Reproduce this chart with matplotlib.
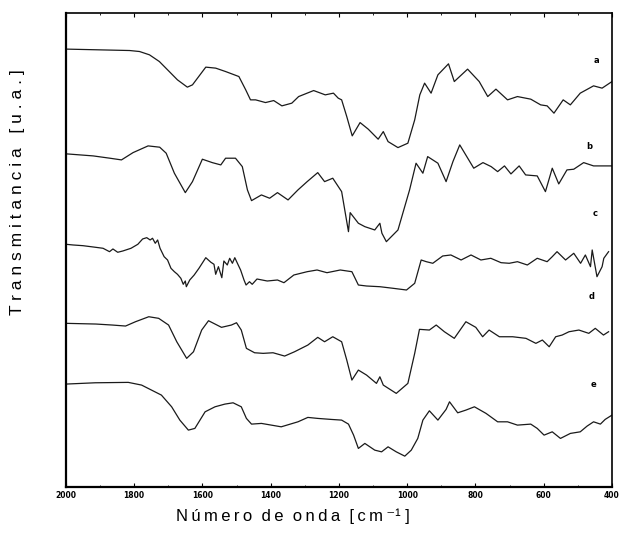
import numpy as np
import matplotlib.pyplot as plt

# wavenumbers [cm-1] and transmittance (arbitrary units, offset per curve)
wn_a = [1997, 1813, 1784, 1755, 1726, 1697, 1673, 1644, 1629, 1590, 1561, 1532, 1493, 1473, 1459,
        1444, 1415, 1391, 1367, 1338, 1318, 1274, 1240, 1216, 1202, 1192, 1177, 1161, 1138, 1114,
        1085, 1070, 1056, 1027, 998, 978, 963, 949, 930, 910, 879, 862, 823, 789, 764, 740, 706,
        677, 638, 609, 590, 570, 543, 522, 493, 454, 429, 400]
t_a = [450.7, 449.3, 448.3, 445.0, 438.3, 428.3, 420.0, 412.7, 415.0, 432.7, 431.7, 428.3, 423.3,
       410.0, 400.0, 400.0, 397.3, 399.3, 394.0, 396.7, 403.3, 409.3, 405.0, 406.7, 401.7, 400.0,
       383.3, 364.0, 377.3, 370.7, 360.7, 368.3, 358.3, 352.3, 356.7, 380.0, 405.0, 416.7, 406.7,
       425.0, 436.0, 418.3, 430.7, 418.3, 403.3, 410.7, 400.0, 403.3, 400.7, 395.0, 394.0, 386.7,
       400.0, 395.0, 406.7, 414.0, 411.7, 418.3]

wn_b = [1997, 1920, 1871, 1837, 1803, 1759, 1725, 1706, 1682, 1650, 1629, 1600, 1571, 1546, 1532,
        1503, 1483, 1468, 1456, 1427, 1403, 1380, 1349, 1320, 1293, 1262, 1242, 1218, 1192, 1172,
        1167, 1143, 1124, 1095, 1080, 1074, 1061, 1027, 993, 974, 954, 940, 910, 886, 866, 846,
        805, 778, 754, 735, 715, 696, 672, 653, 619, 595, 575, 556, 532, 512, 483, 454, 425, 400]
t_b = [346.0, 344.0, 341.7, 340.0, 347.3, 354.0, 352.7, 346.7, 326.7, 307.3, 318.3, 340.7, 337.3,
       335.0, 341.7, 341.7, 333.3, 310.0, 299.3, 305.0, 301.7, 307.3, 300.0, 310.0, 318.3, 327.3,
       318.3, 321.7, 308.3, 268.3, 287.3, 276.7, 273.3, 270.0, 276.7, 266.7, 258.3, 270.0, 310.0,
       336.7, 326.7, 343.3, 336.7, 318.3, 338.3, 355.0, 331.7, 337.3, 333.3, 328.3, 334.0, 326.0,
       334.0, 325.0, 324.0, 308.3, 331.7, 316.0, 330.0, 330.7, 337.3, 334.0, 334.0, 334.0]

wn_c = [2000, 1979, 1950, 1920, 1891, 1872, 1862, 1848, 1833, 1809, 1789, 1775, 1763, 1753, 1746,
        1738, 1731, 1724, 1712, 1702, 1692, 1682, 1673, 1663, 1656, 1650, 1647, 1637, 1624, 1610,
        1590, 1575, 1566, 1561, 1553, 1543, 1537, 1527, 1520, 1512, 1505, 1495, 1488, 1478, 1472,
        1462, 1454, 1440, 1410, 1380, 1361, 1332, 1293, 1264, 1235, 1196, 1162, 1143, 1119, 1080,
        1041, 1002, 978, 959, 944, 925, 896, 872, 842, 813, 784, 755, 725, 701, 677, 648, 619, 590,
        575, 561, 536, 512, 492, 478, 463, 458, 444, 429, 424, 410]
t_c = [255.7, 255.0, 254.3, 253.0, 251.7, 248.3, 251.0, 247.7, 249.0, 251.7, 255.7, 261.0, 262.3,
       260.0, 261.7, 256.7, 260.0, 251.7, 243.3, 240.0, 231.7, 228.3, 225.7, 221.7, 215.7, 219.0,
       213.3, 220.0, 225.0, 231.7, 242.3, 237.7, 235.7, 225.7, 233.3, 222.3, 239.0, 235.0, 241.7,
       236.7, 242.3, 235.0, 230.0, 220.0, 215.0, 218.3, 215.7, 221.0, 219.0, 220.0, 217.3, 225.0,
       228.3, 230.0, 227.3, 230.0, 228.3, 215.0, 214.0, 213.3, 211.7, 210.0, 216.7, 240.0, 238.3,
       236.7, 244.0, 245.0, 240.0, 245.0, 240.0, 241.7, 237.3, 236.7, 238.3, 235.0, 241.7, 238.3,
       243.3, 248.3, 240.0, 246.7, 236.7, 245.0, 233.3, 250.0, 223.3, 233.3, 241.7, 248.3]

wn_d = [2000, 1912, 1864, 1825, 1796, 1757, 1728, 1699, 1675, 1646, 1626, 1602, 1582, 1563, 1544,
        1515, 1500, 1486, 1471, 1447, 1422, 1393, 1359, 1330, 1291, 1262, 1242, 1218, 1192, 1177,
        1162, 1143, 1119, 1090, 1080, 1070, 1032, 998, 978, 964, 935, 915, 891, 862, 828, 799, 779,
        760, 730, 691, 652, 623, 604, 584, 565, 546, 526, 497, 468, 449, 425, 410]
t_d = [176.7, 176.0, 175.0, 174.0, 178.3, 183.3, 181.7, 175.0, 158.3, 141.7, 148.3, 170.0, 179.3,
       176.0, 172.7, 175.0, 177.3, 170.0, 151.7, 147.3, 146.7, 147.3, 144.0, 148.3, 155.0, 162.7,
       158.3, 163.3, 158.3, 140.0, 120.0, 130.0, 125.0, 116.7, 123.3, 115.0, 106.7, 116.7, 146.7,
       170.7, 170.0, 175.0, 168.3, 161.7, 178.3, 172.7, 163.3, 170.0, 163.3, 163.3, 161.7, 156.7,
       160.0, 153.3, 163.3, 165.0, 168.3, 170.0, 166.7, 171.7, 165.0, 168.3]

wn_e = [2000, 1914, 1817, 1778, 1749, 1720, 1690, 1666, 1641, 1622, 1592, 1563, 1534, 1510, 1486,
        1471, 1456, 1427, 1398, 1369, 1320, 1291, 1262, 1223, 1192, 1172, 1157, 1143, 1124, 1095,
        1075, 1056, 1032, 1007, 988, 969, 954, 935, 910, 886, 876, 852, 828, 803, 769, 735, 706,
        677, 638, 619, 599, 575, 551, 522, 493, 473, 454, 434, 420, 400]
t_e = [116.0, 117.3, 117.7, 115.0, 110.0, 105.0, 93.3, 80.0, 70.0, 71.7, 88.3, 93.3, 96.0, 97.3,
       93.3, 81.7, 76.0, 76.7, 75.0, 73.3, 78.3, 82.7, 81.7, 80.7, 80.0, 76.0, 65.0, 51.7, 56.7,
       50.0, 48.3, 53.3, 48.3, 44.0, 50.0, 61.7, 80.0, 89.3, 80.0, 90.7, 98.3, 87.3, 90.0, 93.3,
       86.7, 78.3, 78.3, 75.0, 76.0, 71.7, 65.0, 68.3, 61.7, 66.7, 68.3, 74.0, 78.3, 76.0, 80.7,
       85.0]

curves = [(wn_a, t_a), (wn_b, t_b), (wn_c, t_c), (wn_d, t_d), (wn_e, t_e)]
letters = ['a', 'b', 'c', 'd', 'e']
letter_wn = [446, 468, 449, 460, 454]
letter_t = [439, 353, 286, 204, 116]

xticks = [2000, 1800, 1600, 1400, 1200, 1000, 800, 600, 400]

fig = plt.figure(figsize=(6.21, 5.33), dpi=100)
ax = fig.add_axes([0.106, 0.086, 0.8795, 0.890])

for wn, t in curves:
    ax.plot(wn, t, color='#1a1a1a', lw=0.9)

for lab, x, y in zip(letters, letter_wn, letter_t):
    ax.text(x, y, lab, fontsize=6, fontweight='bold', ha='center', va='center')

ax.set_xlim(2000, 400)
ax.set_ylim(13, 487)
ax.set_xticks(xticks)
ax.set_xticklabels([str(v) for v in xticks], fontsize=5.5, fontweight='bold')
ax.set_xticks(np.arange(400, 2001, 100), minor=True)
ax.set_yticks([])
ax.tick_params(axis='x', which='both', direction='in', top=True, length=3, pad=3)
ax.tick_params(axis='x', which='minor', length=1.5)

for side in ['left', 'bottom']:
    ax.spines[side].set_linewidth(1.6)
for side in ['top', 'right']:
    ax.spines[side].set_linewidth(1.2)

fams = ['Liberation Sans', 'DejaVu Sans']
th = '\u2009'
xlab = th.join('Número') + '  ' + th.join('de') + '  ' + th.join('onda') + '  ' + th.join('[cm') + th + '\u207b\u00b9 ]'
ylab = ' '.join('Transmitancia') + '   ' + ' '.join('[u.a.]')
fig.text(293 / 621, 1 - 516 / 533, xlab, fontsize=12, family=fams, ha='center', va='center')
fig.text(18 / 621, 1 - 192 / 533, ylab, fontsize=12.5, family=fams, rotation=90,
         ha='center', va='center')

fig.savefig('out.png', dpi=100)
